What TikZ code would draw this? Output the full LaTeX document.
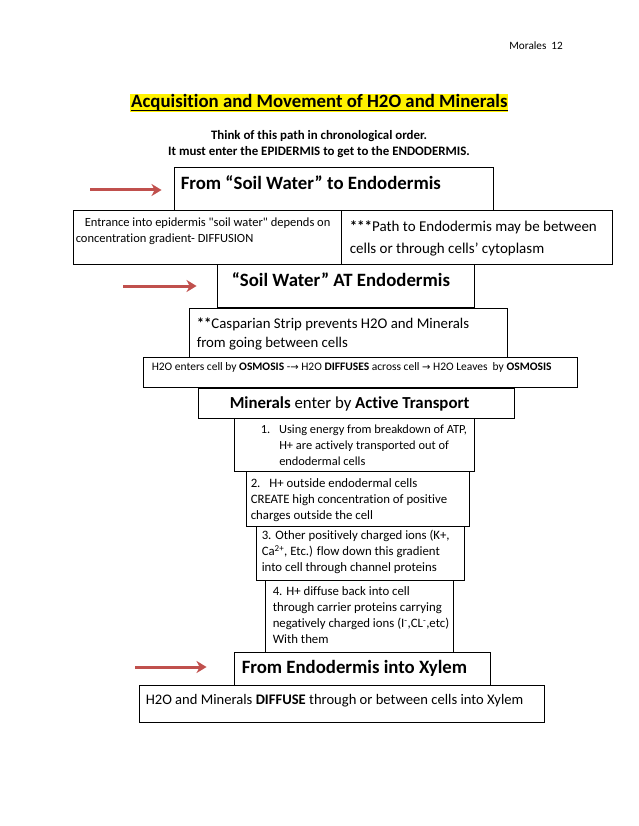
\documentclass[tikz,border=0pt]{standalone}
\usepackage{fontspec}
\setmainfont{Carlito}[Ligatures={TeX,NoCommon}]
\newfontfamily\arrowfont{DejaVu Sans}
\usetikzlibrary{arrows.meta,positioning,fit}
\definecolor{arrowred}{RGB}{192,80,77}
\newcommand{\setsz}[2]{\fontsize{#1}{#2}\selectfont}
\newcommand{\rarr}{{\arrowfont\setsz{10}{12}→}}

\begin{document}
\begin{tikzpicture}[x=1pt,y=-1pt,
        box/.style={draw,line width=0.9pt,inner sep=0pt},
        txt/.style={anchor=base west,inner sep=0pt,align=left},
        head/.style={txt,font=\setsz{18.8}{22}\bfseries},
        pointer/.style={draw=arrowred,line width=3pt,-{Stealth[length=10pt,width=12pt,inset=3pt]}}]
    \useasboundingbox (0,0) rectangle (638,826);

    % page head
    \node[anchor=base east,inner sep=0pt,font=\setsz{11.2}{13}] (page) at (563,50) {Morales\ \ 12};
    \node[anchor=base west,fill=yellow,inner xsep=1pt,inner ysep=1pt,font=\setsz{18.8}{22}\bfseries] (title) at (130,108) {Acquisition and Movement of H2O and Minerals};
    \draw[line width=1pt] ([yshift=-2.5pt,xshift=1pt]title.base west) -- ([yshift=-2.5pt,xshift=-1pt]title.base east);
    % base of a multi-line node = its last line
    \node[anchor=base,inner sep=0pt,align=center,font=\setsz{12.9}{16}\bfseries] (think) at (319,156) {Think of this path in chronological order.\\It must enter the EPIDERMIS to get to the ENDODERMIS.};

    % boxes
    \node[box,fit={(174,167) (493,210)}] (soil) {};
    \node[box,fit={(73,210) (341,264)}] (entry) {};
    \node[box,fit={(341,210) (612,264)}] (path) {};
    \node[box,fit={(217,264) (474,307)}] (atendo) {};
    \node[box,fit={(189,308) (507,357)}] (caspar) {};
    \node[box,fit={(143,357) (577,387)}] (water) {};
    \node[box,fit={(198,388) (514,418)}] (mineral) {};
    \node[box,fit={(234,418) (474,471)}] (stepone) {};
    \node[box,fit={(246,471) (469,526)}] (steptwo) {};
    \node[box,fit={(256,526) (464,580)}] (stepthree) {};
    \node[box,fit={(265,580) (453,652)}] (stepfour) {};
    \node[box,fit={(234,652) (490,685)}] (xylem) {};
    \node[box,fit={(139,685) (544,722)}] (diffuse) {};

    % box texts
    \node[head] (soilt) at ([shift={(7,22.5)}]soil.north west) {From “Soil Water” to Endodermis};
    \node[txt,font=\setsz{12.5}{16}] (entryt) at ([shift={(3,33)}]entry.north west) {\hspace*{9pt}Entrance into epidermis \textquotedbl soil water\textquotedbl{} depends on\\concentration gradient- DIFFUSION};
    \node[txt,font=\setsz{15}{22}] (patht) at ([shift={(9,43.5)}]path.north west) {\textbf{***}Path to Endodermis may be between\\cells or through cells’ cytoplasm};
    \node[head] (atendot) at ([shift={(15,22.5)}]atendo.north west) {“Soil Water” AT Endodermis};
    \node[txt,font=\setsz{14.8}{18.5}] (caspart) at ([shift={(8,39.5)}]caspar.north west) {\textbf{**}Casparian Strip prevents H2O and Minerals\\from going between cells};
    \node[txt,font=\setsz{11.5}{13}] (watert) at ([shift={(9,14)}]water.north west) {H2O enters cell by \textbf{OSMOSIS} -\rarr{} H2O \textbf{DIFFUSES} across cell \rarr{} H2O Leaves\ \ by \textbf{OSMOSIS}};
    \node[txt,font=\setsz{16.8}{19}] (mineralt) at ([shift={(32,20.5)}]mineral.north west) {\textbf{Minerals} enter by \textbf{Active Transport}};
    \node[txt,font=\setsz{12.4}{16}] (steponet) at ([shift={(27,48)}]stepone.north west) {1.\hspace{9pt}Using energy from breakdown of ATP,\\\hspace*{18.5pt}H+ are actively transported out of\\\hspace*{18.5pt}endodermal cells};
    \node[txt,font=\setsz{12.8}{16}] (steptwot) at ([shift={(5,49)}]steptwo.north west) {2.\hspace{9pt}H+ outside endodermal cells\\CREATE high concentration of positive\\charges outside the cell};
    \node[txt,font=\setsz{12.8}{16}] (stepthreet) at ([shift={(6,46)}]stepthree.north west) {3. Other positively charged ions (K+,\\Ca\textsuperscript{2+}, Etc.) flow down this gradient\\into cell through channel proteins};
    \node[txt,font=\setsz{12.8}{16}] (stepfourt) at ([shift={(8,64)}]stepfour.north west) {4. H+ diffuse back into cell\\through carrier proteins carrying\\negatively charged ions (I\textsuperscript{-},CL\textsuperscript{-},etc)\\With them};
    \node[head] (xylemt) at ([shift={(8,21.5)}]xylem.north west) {From Endodermis into Xylem};
    \node[txt,font=\setsz{14.6}{17}] (diffuset) at ([shift={(7,19.5)}]diffuse.north west) {H2O and Minerals \textbf{DIFFUSE} through or between cells into Xylem};

    % red arrows
    \coordinate (inone) at (90,190);
    \coordinate (intwo) at (123,286);
    \coordinate (inthree) at (135,667);
    \draw[pointer,shorten >=12pt] (inone) -- (inone -| soil.west);
    \draw[pointer,shorten >=20pt] (intwo) -- (intwo -| atendo.west);
    \draw[pointer,shorten >=27pt] (inthree) -- (inthree -| xylem.west);
\end{tikzpicture}
\end{document}
